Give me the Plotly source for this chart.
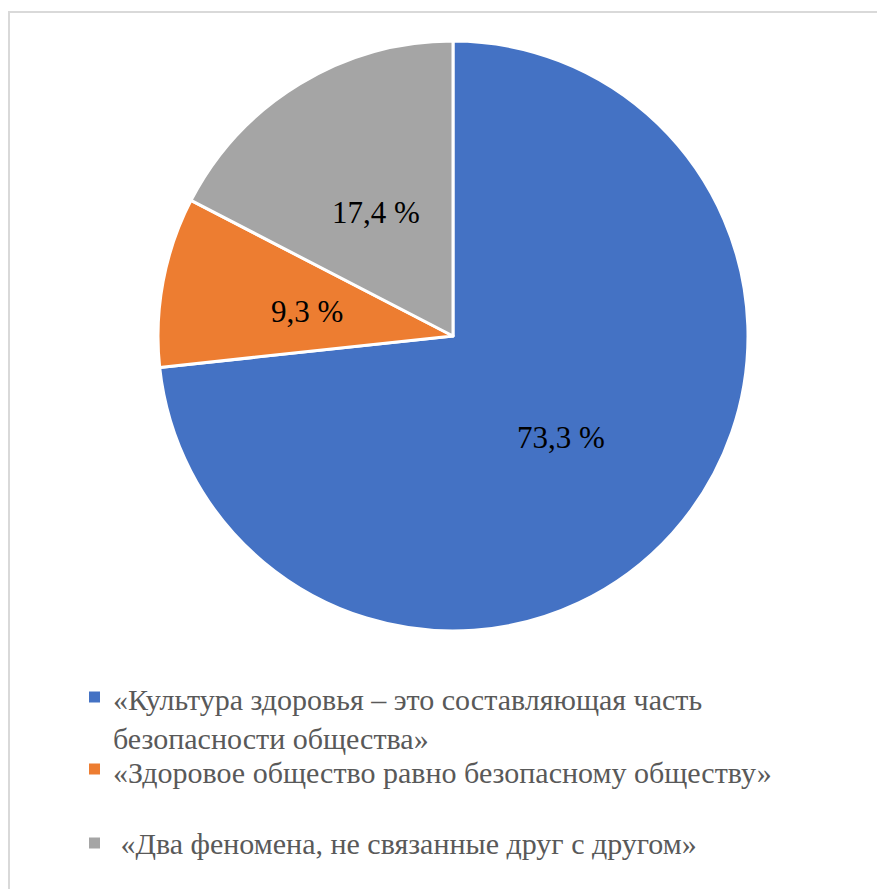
import plotly.graph_objects as go

labels = ["«Культура здоровья – это составляющая часть<br>безопасности общества»",
          "«Здоровое общество равно безопасному обществу»",
          " «Два феномена, не связанные друг с другом»"]
values = [73.3, 9.3, 17.4]
colors = ["#4472C4", "#ED7D31", "#A5A5A5"]

W, H = 885, 889
OFF = 8  # page body margin
FONT = "Liberation Serif"

def px(x):
    return (x - OFF) / W

def py(y):
    return 1 - (y - OFF) / H

cx, cy, r = 453, 336, 295

fig = go.Figure(go.Pie(
    values=values,
    labels=[l.replace("<br>", " ") for l in labels],
    marker=dict(colors=colors, line=dict(color="white", width=3)),
    sort=False,
    direction="clockwise",
    rotation=0,
    textinfo="none",
    hoverinfo="label+percent",
    showlegend=False,
    domain=dict(x=[px(cx - r), px(cx + r)], y=[py(cy + r), py(cy - r)]),
))

label_pos = [(561, 438), (307, 312), (376, 213)]
annotations = []
for v, (x, y) in zip(values, label_pos):
    annotations.append(dict(
        x=px(x), y=py(y), xref="paper", yref="paper",
        text=f"{v:.1f} %".replace(".", ","), showarrow=False,
        font=dict(family=FONT, size=31, color="#000000"),
        xanchor="center", yanchor="middle"))

legend_rows = [(697, 111, 719), (769, 111, 772), (843, 111, 843)]
shapes = []
for lab, col, (my, tx, ty) in zip(labels, colors, legend_rows):
    shapes.append(dict(type="rect", xref="paper", yref="paper",
                       x0=px(89), x1=px(100), y0=py(my + 5.5), y1=py(my - 5.5),
                       fillcolor=col, line=dict(width=0)))
    annotations.append(dict(
        x=px(tx), y=py(ty), xref="paper", yref="paper",
        text=lab, showarrow=False, align="left",
        font=dict(family=FONT, size=30, color="#595959"),
        xanchor="left", yanchor="middle"))

shapes.append(dict(type="rect", xref="paper", yref="paper",
                   x0=px(9), x1=1.02, y0=-0.02, y1=py(12),
                   line=dict(color="#d9d9d9", width=2), fillcolor="rgba(0,0,0,0)"))

fig.update_layout(
    width=W, height=H,
    margin=dict(l=0, r=0, t=0, b=0),
    paper_bgcolor="white", plot_bgcolor="white",
    font=dict(family=FONT),
    annotations=annotations, shapes=shapes,
)

fig.write_html("out.html")
